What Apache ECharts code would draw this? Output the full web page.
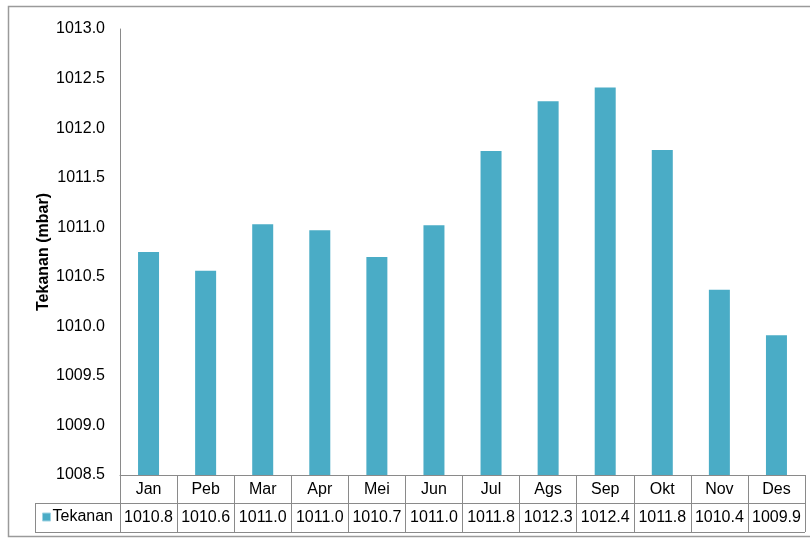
<!DOCTYPE html>
<html>
<head>
<meta charset="utf-8">
<script src="https://cdn.jsdelivr.net/npm/echarts@6/dist/echarts.min.js"></script>
<style>
html,body{margin:0;padding:0;background:#fff;}
#c{width:810px;height:539px;}
</style>
</head>
<body>
<div id="c"></div>
<script>
// Data
var months = ['Jan','Peb','Mar','Apr','Mei','Jun','Jul','Ags','Sep','Okt','Nov','Des'];
var tekanan = [1010.75,1010.56,1011.03,1010.97,1010.70,1011.02,1011.77,1012.27,1012.41,1011.78,1010.37,1009.91];
var tableLabels = ['1010.8','1010.6','1011.0','1011.0','1010.7','1011.0','1011.8','1012.3','1012.4','1011.8','1010.4','1009.9'];
var seriesName = 'Tekanan';
var yTitle = 'Tekanan (mbar)';

var FONT = '"Liberation Sans", Arial, sans-serif';
var GRAY = '#8a8a8a';
var chart = echarts.init(document.getElementById('c'), null, {renderer:'canvas'});
var option = {
  animation:false,
  backgroundColor:'#fff',
  textStyle:{fontFamily:FONT},
  grid:{left:120, right:5, top:29, bottom:64, containLabel:false},
  legend:{
    data:[seriesName], left:42, top:509, itemWidth:8, itemHeight:8, icon:'rect', itemGap:4,
    textStyle:{fontSize:16, color:'#000', fontFamily:FONT, padding:[0,0,0,-3]}, padding:0,
    itemStyle:{borderColor:'#9fd3e3', borderWidth:1}
  },
  xAxis:{
    type:'category', data:months,
    axisLine:{lineStyle:{color:GRAY, width:1}},
    axisTick:{show:true, length:57, alignWithLabel:false, lineStyle:{color:GRAY, width:1}},
    axisLabel:{
      margin:0, verticalAlign:'top', interval:0,
      formatter:function(v, i){ return '{c|' + v + '}\n{v|' + tableLabels[i] + '}'; },
      rich:{
        c:{fontSize:16, lineHeight:28.5, color:'#000', fontFamily:FONT},
        v:{fontSize:16, lineHeight:28.5, color:'#000', fontFamily:FONT}
      }
    }
  },
  yAxis:{
    type:'value', min:1008.5, max:1013, interval:0.5,
    name:yTitle, nameLocation:'middle', nameRotate:90, nameGap:68, nameMoveOverlap:false,
    nameTextStyle:{fontSize:16, fontWeight:'bold', color:'#000', fontFamily:FONT},
    axisLine:{show:true, lineStyle:{color:GRAY, width:1}},
    axisTick:{show:false},
    splitLine:{show:false},
    axisLabel:{margin:15, fontSize:16, color:'#000', fontFamily:FONT,
      formatter:function(v){ return v.toFixed(1); }}
  },
  series:[{
    name:seriesName, type:'bar', data:tekanan, barWidth:21,
    itemStyle:{color:'#4aacc6'}
  }],
  graphic:[
    {type:'rect', shape:{x:8.5, y:6.5, width:820, height:530}, style:{fill:'none', stroke:'#9a9a9a', lineWidth:1.5}, silent:true},
    {type:'line', shape:{x1:35, y1:503.5, x2:805, y2:503.5}, style:{stroke:GRAY, lineWidth:1}, silent:true},
    {type:'line', shape:{x1:35, y1:532.5, x2:805, y2:532.5}, style:{stroke:GRAY, lineWidth:1}, silent:true},
    {type:'line', shape:{x1:35.5, y1:503, x2:35.5, y2:533}, style:{stroke:GRAY, lineWidth:1}, silent:true}
  ]
};
chart.setOption(option);
</script>
</body>
</html>
